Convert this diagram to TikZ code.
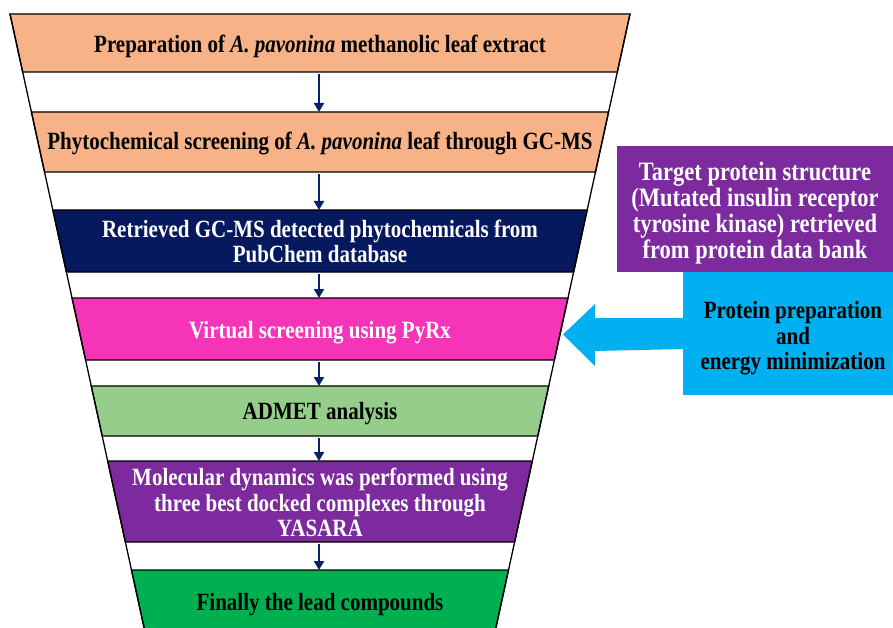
\documentclass[tikz,border=0pt]{standalone}
\usepackage{fontspec}
\usepackage{graphicx}
\setmainfont{Liberation Serif}
\usetikzlibrary{arrows.meta,calc}
\definecolor{orangeband}{RGB}{248,178,135}
\definecolor{navyband}{RGB}{6,24,94}
\definecolor{pinkband}{RGB}{245,52,184}
\definecolor{lightgreenband}{RGB}{148,206,138}
\definecolor{purpleband}{RGB}{124,42,158}
\definecolor{greenband}{RGB}{0,176,80}
\definecolor{cyanbox}{RGB}{0,176,240}
\definecolor{arrownavy}{RGB}{10,32,100}
\newcommand\tallstack[1]{\scalebox{1}[1.18]{\begin{tabular}{@{}c@{}}#1\end{tabular}}}
\tikzset{
  bandtext/.style={font=\fontsize{21}{21.6}\selectfont\bfseries, align=center, inner sep=0pt},
  boxtext/.style={font=\fontsize{22.5}{21.6}\selectfont\bfseries, align=center, inner sep=0pt},
  flowarrow/.style={draw=arrownavy, line width=2.4pt, -{Triangle[width=10pt,length=9pt]}},
  outline/.style={draw=black, line width=1.3pt},
}
\newcommand\funnelband[3]{%
  \draw[outline, fill=#3] ({320-hw(#1)},#1) -- ({320+hw(#1)},#1) -- ({320+hw(#2)},#2) -- ({320-hw(#2)},#2) -- cycle;}
\begin{document}
\begin{tikzpicture}[x=1pt,y=-1pt, declare function={hw(\t)=310-0.2185*(\t-14);}]
\useasboundingbox (0,0) rectangle (893,628);
\fill[white] (0,0) rectangle (893,628);
% funnel bands
\funnelband{14}{72}{orangeband}
\funnelband{112}{172}{orangeband}
\funnelband{210}{272}{navyband}
\funnelband{298}{360}{pinkband}
\funnelband{386}{436}{lightgreenband}
\funnelband{461}{542}{purpleband}
\draw[outline, fill=greenband] ({320-hw(570)},570) -- ({320+hw(570)},570) -- ({320+hw(640)},640) -- ({320-hw(640)},640) -- cycle;
% funnel sides
\draw[outline] ({320-hw(14)},14) -- ({320-hw(640)},640);
\draw[outline] ({320+hw(14)},14) -- ({320+hw(640)},640);
% band texts
\node[bandtext, text=black] (b1) at (320,47) {\tallstack{Preparation of \textit{A. pavonina} methanolic leaf extract}};
\node[bandtext, text=black] (b2) at (320,144) {\tallstack{Phytochemical screening of \textit{A. pavonina} leaf through GC-MS}};
\node[bandtext, text=white] (b3) at (320,245) {\tallstack{Retrieved GC-MS detected phytochemicals from\\PubChem database}};
\node[bandtext, text=white] (b4) at (320,333) {\tallstack{Virtual screening using PyRx}};
\node[bandtext, text=black] (b5) at (320,414) {\tallstack{ADMET analysis}};
\node[bandtext, text=white] (b6) at (320,506) {\tallstack{Molecular dynamics was performed using\\three best docked complexes through\\YASARA}};
\node[bandtext, text=black] (b7) at (320,605) {\tallstack{Finally the lead compounds}};
% arrow end points
\coordinate (g1s) at (319,74);  \coordinate (g1e) at (319,112);
\coordinate (g2s) at (319,174); \coordinate (g2e) at (319,210);
\coordinate (g3s) at (319,274); \coordinate (g3e) at (319,298);
\coordinate (g4s) at (319,362); \coordinate (g4e) at (319,386);
\coordinate (g5s) at (319,438); \coordinate (g5e) at (319,461);
\coordinate (g6s) at (319,544); \coordinate (g6e) at (319,570);
\draw[flowarrow] (g1s) -- (g1e);
\draw[flowarrow] (g2s) -- (g2e);
\draw[flowarrow] (g3s) -- (g3e);
\draw[flowarrow] (g4s) -- (g4e);
\draw[flowarrow] (g5s) -- (g5e);
\draw[flowarrow] (g6s) -- (g6e);
% right side boxes
\node[fill=purpleband, minimum width=276pt, minimum height=126pt, inner sep=0pt] (target) at (755,209) {};
\node[boxtext, text=white] (targettext) at (755,214)
  {\tallstack{Target protein structure\\(Mutated insulin receptor\\tyrosine kinase) retrieved\\from protein data bank}};
\node[fill=cyanbox, minimum width=210pt, minimum height=123pt, inner sep=0pt] (prot) at (788,333.5) {};
\fill[cyanbox] ($(prot.west)+(1,-15.5)$) -- (595,318) -- (595,304) -- (563,334.5) -- (595,366) -- (595,351) -- ($(prot.west)+(1,15.5)$) -- cycle;
\node[bandtext, text=black] (prottext) at (793,339) {\tallstack{Protein preparation\\and\\energy minimization}};
\end{tikzpicture}
\end{document}
